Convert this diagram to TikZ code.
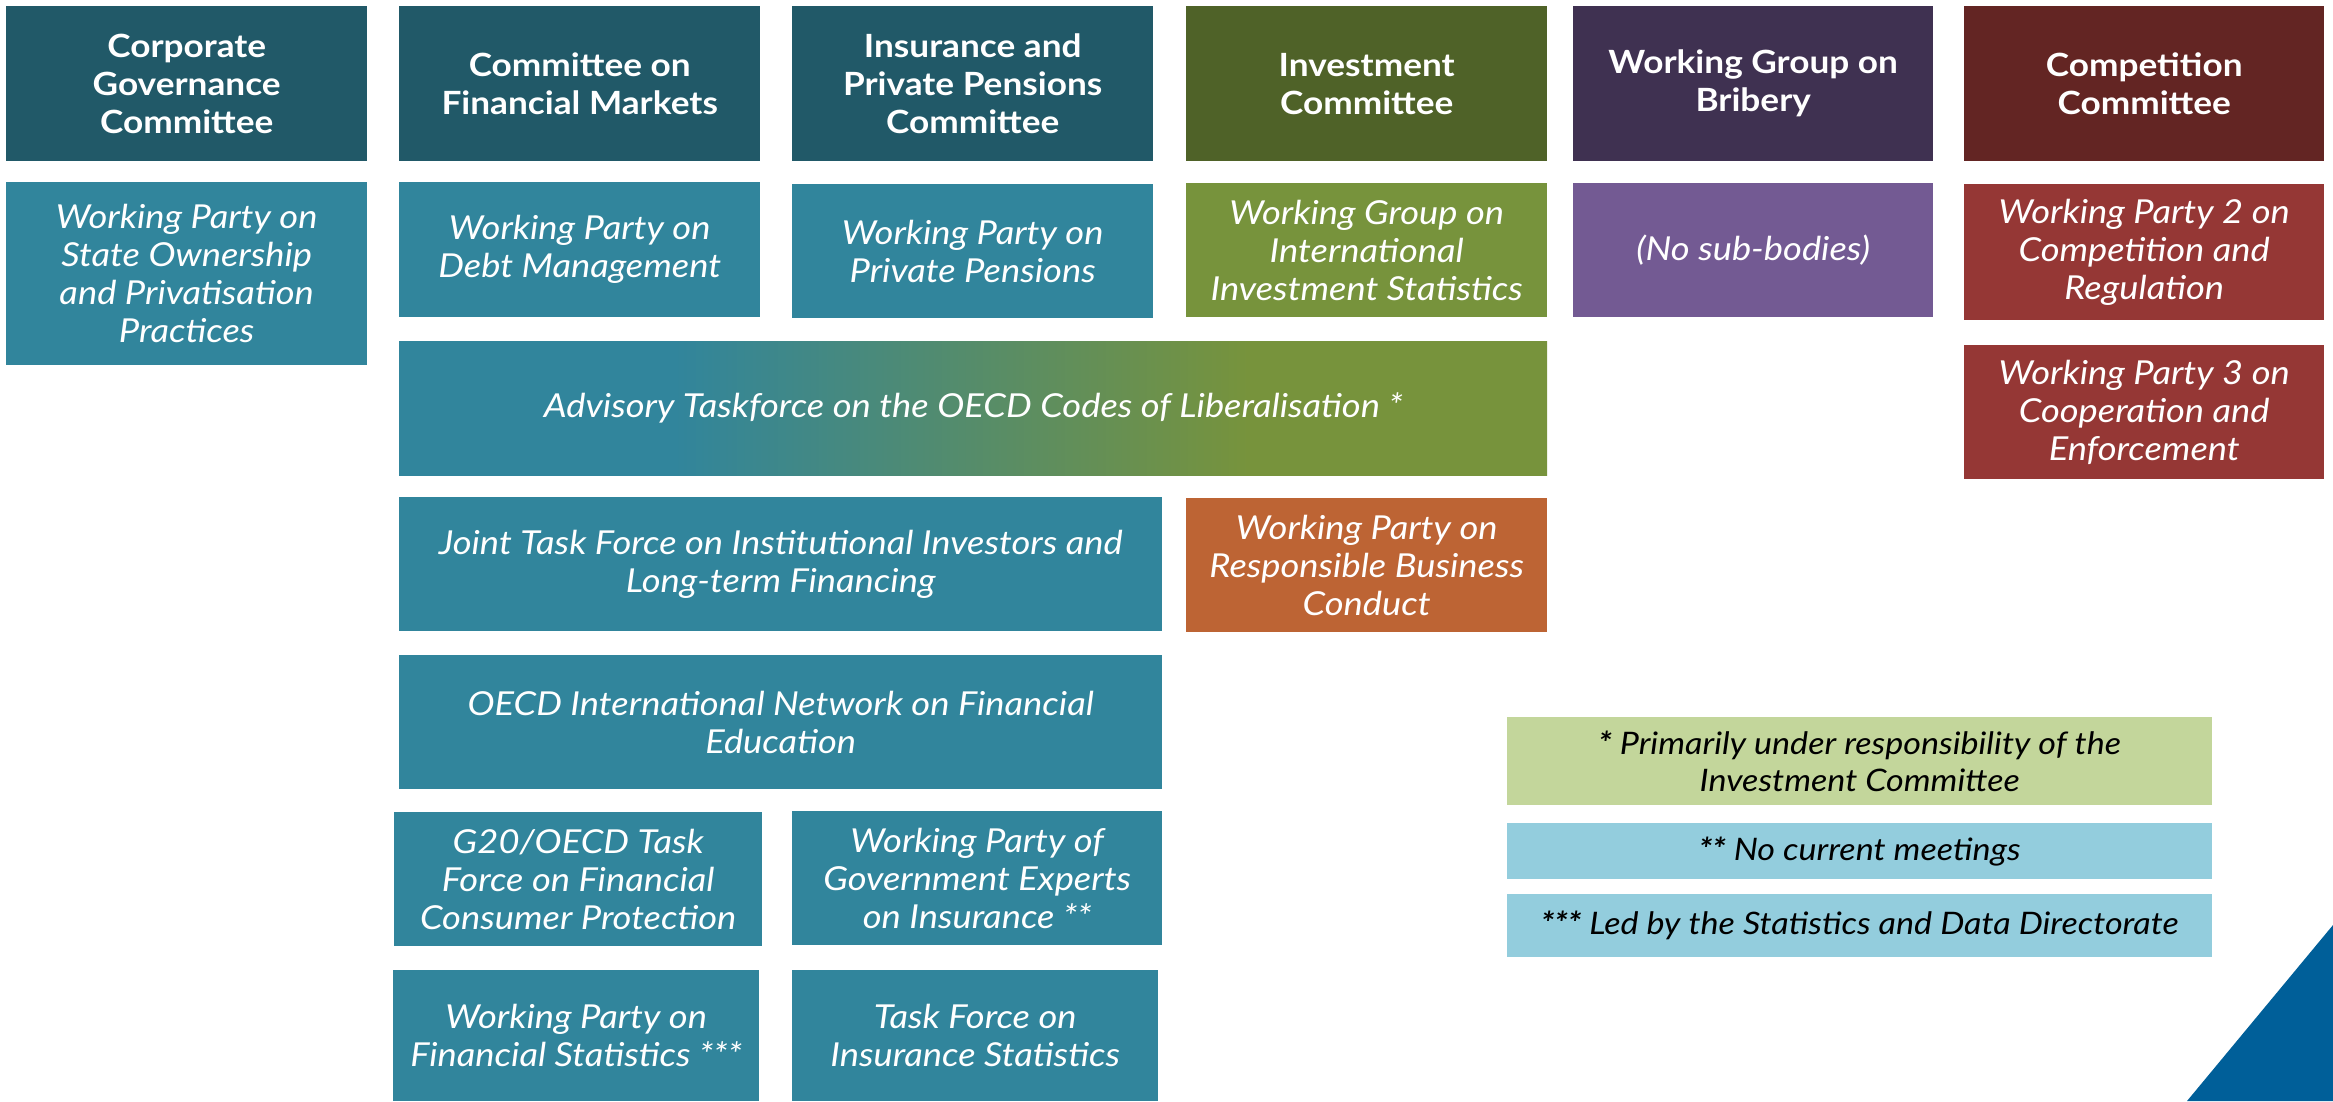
\documentclass[tikz,border=0pt]{standalone}
\usepackage{fontspec}
\setmainfont{Lato}[FakeStretch=1.1]
\usepackage{xcolor}
\usepackage{tikz}

\definecolor{headteal}{HTML}{215968}
\definecolor{subteal}{HTML}{31859C}
\definecolor{headgreen}{HTML}{4F6228}
\definecolor{subgreen}{HTML}{77933C}
\definecolor{headpurple}{HTML}{3F3151}
\definecolor{subpurple}{HTML}{735A93}
\definecolor{headred}{HTML}{632523}
\definecolor{subred}{HTML}{953735}
\definecolor{suborange}{HTML}{BD6434}
\definecolor{notegreen}{HTML}{C3D69B}
\definecolor{noteblue}{HTML}{93CDDD}
\definecolor{cornerblue}{HTML}{005F99}

\pgfdeclarehorizontalshading{codeshade}{100bp}{color(0bp)=(subteal); color(37bp)=(subteal); color(62bp)=(subgreen); color(100bp)=(subgreen)}

\begin{document}
\begin{tikzpicture}[x=1pt, y=-1pt,
	box/.style={anchor=north west, inner sep=0pt, align=center, text=white},
	head/.style={box, font=\bfseries\fontsize{32}{38}\selectfont},
	sub/.style={box, font=\itshape\fontsize{33}{38}\selectfont},
	note/.style={box, text=black, font=\itshape\fontsize{31}{37}\selectfont},
	wh/.style 2 args={minimum width=#1, minimum height=#2}]
	\useasboundingbox (0,0) rectangle (2333,1101);

	% committees
	\node[head, fill=headteal, wh={361}{155}] (cgc) at (6,6) {Corporate\\Governance\\Committee};
	\node[head, fill=headteal, wh={361}{155}] (cfm) at (399,6) {Committee on\\Financial Markets};
	\node[head, fill=headteal, wh={361}{155}] (ippc) at (792,6) {Insurance and\\Private Pensions\\Committee};
	\node[head, fill=headgreen, wh={361}{155}] (invc) at (1186,6) {Investment\\Committee};
	\node[head, fill=headpurple, wh={360}{155}] (wgb) at (1573,6) {Working Group on\\Bribery};
	\node[head, fill=headred, wh={360}{155}] (compc) at (1964,6) {Competition\\Committee};

	% sub-bodies
	\node[sub, fill=subteal, wh={361}{183}] (wpsoe) at (6,182) {Working Party on\\State Ownership\\and Privatisation\\Practices};
	\node[sub, fill=subteal, wh={361}{135}] (wpdm) at (399,182) {Working Party on\\Debt Management};
	\node[sub, fill=subteal, wh={361}{134}] (wppp) at (792,184) {Working Party on\\Private Pensions};
	\node[sub, fill=subgreen, wh={361}{134}] (wgiis) at (1186,183) {Working Group on\\International\\Investment Statistics};
	\node[sub, fill=subpurple, wh={360}{134}] (nosub) at (1573,183) {(No sub-bodies)};
	\node[sub, fill=subred, wh={360}{136}] (wp2) at (1964,184) {Working Party 2 on\\Competition and\\Regulation};
	\node[sub, fill=subred, wh={360}{134}] (wp3) at (1964,345) {Working Party 3 on\\Cooperation and\\Enforcement};

	\node[sub, shade, shading=codeshade, wh={1148}{134}] (atf) at (399,341) {Advisory Taskforce on the OECD Codes of Liberalisation *};
	\node[sub, fill=subteal, wh={763}{134}] (jtf) at (399,497) {Joint Task Force on Institutional Investors and\\Long-term Financing};
	\node[sub, fill=suborange, wh={361}{134}] (rbc) at (1186,498) {Working Party on\\Responsible Business\\Conduct};
	\node[sub, fill=subteal, wh={763}{134}] (infe) at (399,655) {OECD International Network on Financial\\Education};
	\node[sub, fill=subteal, wh={368}{134}] (g20) at (394,812) {G20/OECD Task\\Force on Financial\\Consumer Protection};
	\node[sub, fill=subteal, wh={370}{134}] (wpge) at (792,811) {Working Party of\\Government Experts\\on Insurance **};
	\node[sub, fill=subteal, wh={366}{131}] (wpfs) at (393,970) {Working Party on\\Financial Statistics ***};
	\node[sub, fill=subteal, wh={366}{131}] (tfis) at (792,970) {Task Force on\\Insurance Statistics};

	% notes
	\node[note, fill=notegreen, wh={705}{88}] (n1) at (1507,717) {\textbf{*} Primarily under responsibility of the\\Investment Committee};
	\node[note, fill=noteblue, wh={705}{56}] (n2) at (1507,823) {\textbf{**} No current meetings};
	\node[note, fill=noteblue, wh={705}{63}] (n3) at (1507,894) {\textbf{***} Led by the Statistics and Data Directorate};

	\fill[cornerblue] (2187,1101) -- (2333,925) -- (2333,1101) -- cycle;
\end{tikzpicture}
\end{document}
